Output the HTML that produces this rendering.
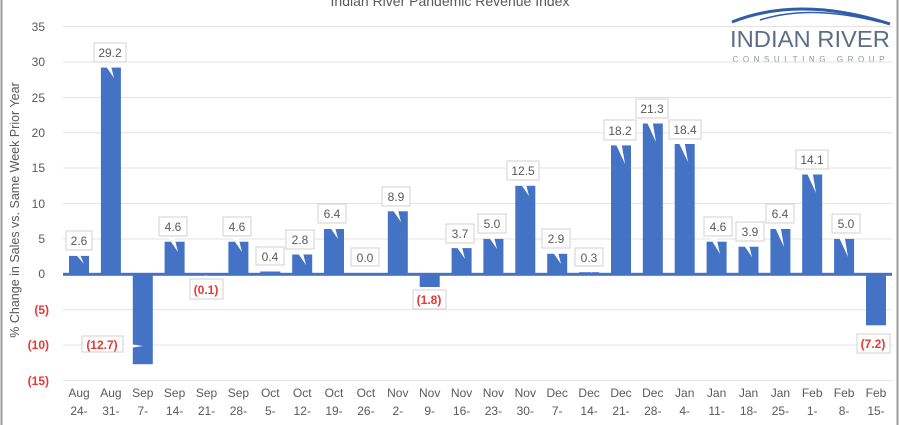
<!DOCTYPE html>
<html><head><meta charset="utf-8"><style>
html,body{margin:0;padding:0;background:#fff;}
svg{display:block;font-family:"Liberation Sans",sans-serif;}
.t{font-size:12px;fill:#595959;}
.n{font-size:12px;fill:#e53935;font-weight:bold;}
.lb{fill:#fff;stroke:#d0d0d0;stroke-width:1;}
.b{fill:#4472c4;}
</style></head><body>
<svg width="900" height="425" viewBox="0 0 900 425">
<rect x="0" y="0" width="900" height="425" fill="#fff"/>
<line x1="1.5" y1="0" x2="1.5" y2="425" stroke="#9a9a9a" stroke-width="2"/>
<line x1="897.5" y1="0" x2="897.5" y2="425" stroke="#9a9a9a" stroke-width="2"/>
<text x="450" y="6" text-anchor="middle" style="font-size:14px;fill:#595959">Indian River Pandemic Revenue Index</text>
<!-- logo -->
<path d="M732 22 Q800 -5 890 24" fill="none" stroke="#2f5da8" stroke-width="3"/>
<path d="M760 20 Q810 4 880 22" fill="none" stroke="#2f5da8" stroke-width="1.5"/>
<text x="810" y="47" text-anchor="middle" style="font-size:23px;fill:#5d6f88" textLength="160" lengthAdjust="spacingAndGlyphs">INDIAN RIVER</text>
<text x="810" y="62" text-anchor="middle" style="font-size:8px;fill:#8a96a8;letter-spacing:3px" textLength="155" lengthAdjust="spacing">CONSULTING GROUP</text>
<!-- gridlines -->
<g stroke="#e3e3e3" stroke-width="1">
<line x1="63" x2="892" y1="26.5" y2="26.5"/><line x1="63" x2="892" y1="62" y2="62"/>
<line x1="63" x2="892" y1="97.4" y2="97.4"/><line x1="63" x2="892" y1="132.7" y2="132.7"/>
<line x1="63" x2="892" y1="168" y2="168"/><line x1="63" x2="892" y1="203.5" y2="203.5"/>
<line x1="63" x2="892" y1="239" y2="239"/><line x1="63" x2="892" y1="309.7" y2="309.7"/>
<line x1="63" x2="892" y1="345" y2="345"/><line x1="63" x2="892" y1="380.5" y2="380.5"/>
</g>
<!-- y ticks -->
<g class="t" text-anchor="end">
<text x="45" y="31">35</text><text x="45" y="66">30</text><text x="45" y="102">25</text>
<text x="45" y="137">20</text><text x="45" y="172">15</text><text x="45" y="208">10</text>
<text x="45" y="243">5</text><text x="45" y="278">0</text>
</g>
<g class="n" text-anchor="end">
<text x="49" y="314">(5)</text><text x="49" y="349">(10)</text><text x="49" y="385">(15)</text>
</g>
<text transform="translate(19,210) rotate(-90)" text-anchor="middle" style="font-size:12.5px;fill:#595959">% Change in Sales vs. Same Week Prior Year</text>
<!-- bars -->
<g class="b">
<rect x="69" y="255.9" width="20" height="18.4"/>
<rect x="100.9" y="67.6" width="20" height="206.7"/>
<rect x="132.8" y="274.3" width="20" height="89.9"/>
<rect x="164.6" y="241.7" width="20" height="32.6"/>
<rect x="196.5" y="274.3" width="20" height="0.7"/>
<rect x="228.4" y="241.7" width="20" height="32.6"/>
<rect x="260.3" y="271.5" width="20" height="2.8"/>
<rect x="292.2" y="254.5" width="20" height="19.8"/>
<rect x="324" y="229" width="20" height="45.3"/>
<rect x="387.8" y="211.3" width="20" height="63"/>
<rect x="419.7" y="274.3" width="20" height="12.7"/>
<rect x="451.6" y="248.1" width="20" height="26.2"/>
<rect x="483.4" y="238.9" width="20" height="35.4"/>
<rect x="515.3" y="185.8" width="20" height="88.5"/>
<rect x="547.2" y="253.8" width="20" height="20.5"/>
<rect x="579.1" y="272.2" width="20" height="2.1"/>
<rect x="611" y="145.4" width="20" height="128.9"/>
<rect x="642.8" y="123.5" width="20" height="150.8"/>
<rect x="674.7" y="144" width="20" height="130.3"/>
<rect x="706.6" y="241.7" width="20" height="32.6"/>
<rect x="738.5" y="246.7" width="20" height="27.6"/>
<rect x="770.4" y="229" width="20" height="45.3"/>
<rect x="802.2" y="174.5" width="20" height="99.8"/>
<rect x="834.1" y="238.9" width="20" height="35.4"/>
<rect x="866" y="274.3" width="20" height="51"/>
<rect x="63" y="272.8" width="829" height="3"/>
</g>
<!-- positive labels: box + tail -->
<g>
<polygon points="72,250 78,250 84,264" fill="#fff"/><rect class="lb" x="66" y="231" width="26" height="19"/><text class="t" x="79" y="245" text-anchor="middle">2.6</text>
<polygon points="103,62 110,62 114,78" fill="#fff"/><rect class="lb" x="94" y="43" width="32" height="19"/><text class="t" x="110" y="57" text-anchor="middle">29.2</text>
<polygon points="167,236 174,236 178,252" fill="#fff"/><rect class="lb" x="159" y="217" width="28" height="19"/><text class="t" x="173" y="231" text-anchor="middle">4.6</text>
<polygon points="231,236 238,236 242,252" fill="#fff"/><rect class="lb" x="223" y="217" width="28" height="19"/><text class="t" x="237" y="231" text-anchor="middle">4.6</text>
<polygon points="265,264 271,264 273,272" fill="#fff"/><rect class="lb" x="256" y="247" width="28" height="18"/><text class="t" x="270" y="261" text-anchor="middle">0.4</text>
<polygon points="295,249 302,249 306,265" fill="#fff"/><rect class="lb" x="286" y="230" width="28" height="19"/><text class="t" x="300" y="244" text-anchor="middle">2.8</text>
<polygon points="327,223 334,223 338,239" fill="#fff"/><rect class="lb" x="318" y="204" width="28" height="19"/><text class="t" x="332" y="218" text-anchor="middle">6.4</text>
<polygon points="361,266 367,266 369,273" fill="#fff"/><rect class="lb" x="351" y="248" width="28" height="18"/><text class="t" x="365" y="262" text-anchor="middle">0.0</text>
<polygon points="390,206 397,206 401,222" fill="#fff"/><rect class="lb" x="382" y="187" width="28" height="19"/><text class="t" x="396" y="201" text-anchor="middle">8.9</text>
<polygon points="454,243 461,243 465,259" fill="#fff"/><rect class="lb" x="446" y="224" width="28" height="19"/><text class="t" x="460" y="238" text-anchor="middle">3.7</text>
<polygon points="486,233 493,233 497,249" fill="#fff"/><rect class="lb" x="478" y="214" width="28" height="19"/><text class="t" x="492" y="228" text-anchor="middle">5.0</text>
<polygon points="518,180 525,180 529,196" fill="#fff"/><rect class="lb" x="507" y="161" width="32" height="19"/><text class="t" x="523" y="175" text-anchor="middle">12.5</text>
<polygon points="550,248 557,248 561,264" fill="#fff"/><rect class="lb" x="542" y="229" width="28" height="19"/><text class="t" x="556" y="243" text-anchor="middle">2.9</text>
<polygon points="584,266 590,266 592,273" fill="#fff"/><rect class="lb" x="575" y="248" width="28" height="18"/><text class="t" x="589" y="262" text-anchor="middle">0.3</text>
<polygon points="614,140 621,140 625,164" fill="#fff"/><rect class="lb" x="604" y="120" width="32" height="20"/><text class="t" x="620" y="135" text-anchor="middle">18.2</text>
<polygon points="645,118 652,118 656,142" fill="#fff"/><rect class="lb" x="636" y="99" width="32" height="19"/><text class="t" x="652" y="113" text-anchor="middle">21.3</text>
<polygon points="677,139 684,139 688,162" fill="#fff"/><rect class="lb" x="669" y="120" width="32" height="19"/><text class="t" x="685" y="134" text-anchor="middle">18.4</text>
<polygon points="709,236 716,236 720,254" fill="#fff"/><rect class="lb" x="704" y="217" width="28" height="19"/><text class="t" x="718" y="231" text-anchor="middle">4.6</text>
<polygon points="741,241 748,241 752,257" fill="#fff"/><rect class="lb" x="736" y="222" width="28" height="19"/><text class="t" x="750" y="236" text-anchor="middle">3.9</text>
<polygon points="773,223 780,223 784,247" fill="#fff"/><rect class="lb" x="766" y="204" width="28" height="19"/><text class="t" x="780" y="218" text-anchor="middle">6.4</text>
<polygon points="805,169 812,169 816,193" fill="#fff"/><rect class="lb" x="796" y="150" width="32" height="19"/><text class="t" x="812" y="164" text-anchor="middle">14.1</text>
<polygon points="837,233 844,233 848,257" fill="#fff"/><rect class="lb" x="832" y="214" width="28" height="19"/><text class="t" x="846" y="228" text-anchor="middle">5.0</text>
</g>
<!-- negative labels -->
<g>
<polygon points="123,343 123,349 143,346" fill="#fff"/><rect class="lb" x="82" y="336" width="41" height="16"/><text class="n" x="102" y="349" text-anchor="middle">(12.7)</text>
<polygon points="203,279 209,279 206,275" fill="#fff"/><rect class="lb" x="190" y="279" width="33" height="20"/><text class="n" x="206" y="294" text-anchor="middle">(0.1)</text>
<polygon points="426,290 432,290 429,287" fill="#fff"/><rect class="lb" x="413" y="290" width="33" height="19"/><text class="n" x="429" y="304" text-anchor="middle">(1.8)</text>
<rect class="lb" x="857" y="334" width="33" height="19"/><text class="n" x="873" y="348" text-anchor="middle">(7.2)</text>
</g>
<!-- x labels -->
<g class="t" text-anchor="middle">
<text x="79" y="397">Aug</text><text x="79" y="415">24-</text>
<text x="110.9" y="397">Aug</text><text x="110.9" y="415">31-</text>
<text x="142.8" y="397">Sep</text><text x="142.8" y="415">7-</text>
<text x="174.6" y="397">Sep</text><text x="174.6" y="415">14-</text>
<text x="206.5" y="397">Sep</text><text x="206.5" y="415">21-</text>
<text x="238.4" y="397">Sep</text><text x="238.4" y="415">28-</text>
<text x="270.3" y="397">Oct</text><text x="270.3" y="415">5-</text>
<text x="302.2" y="397">Oct</text><text x="302.2" y="415">12-</text>
<text x="334" y="397">Oct</text><text x="334" y="415">19-</text>
<text x="365.9" y="397">Oct</text><text x="365.9" y="415">26-</text>
<text x="397.8" y="397">Nov</text><text x="397.8" y="415">2-</text>
<text x="429.7" y="397">Nov</text><text x="429.7" y="415">9-</text>
<text x="461.6" y="397">Nov</text><text x="461.6" y="415">16-</text>
<text x="493.4" y="397">Nov</text><text x="493.4" y="415">23-</text>
<text x="525.3" y="397">Nov</text><text x="525.3" y="415">30-</text>
<text x="557.2" y="397">Dec</text><text x="557.2" y="415">7-</text>
<text x="589.1" y="397">Dec</text><text x="589.1" y="415">14-</text>
<text x="621" y="397">Dec</text><text x="621" y="415">21-</text>
<text x="652.8" y="397">Dec</text><text x="652.8" y="415">28-</text>
<text x="684.7" y="397">Jan</text><text x="684.7" y="415">4-</text>
<text x="716.6" y="397">Jan</text><text x="716.6" y="415">11-</text>
<text x="748.5" y="397">Jan</text><text x="748.5" y="415">18-</text>
<text x="780.4" y="397">Jan</text><text x="780.4" y="415">25-</text>
<text x="812.2" y="397">Feb</text><text x="812.2" y="415">1-</text>
<text x="844.1" y="397">Feb</text><text x="844.1" y="415">8-</text>
<text x="876" y="397">Feb</text><text x="876" y="415">15-</text>
</g>
</svg>
</body></html>
